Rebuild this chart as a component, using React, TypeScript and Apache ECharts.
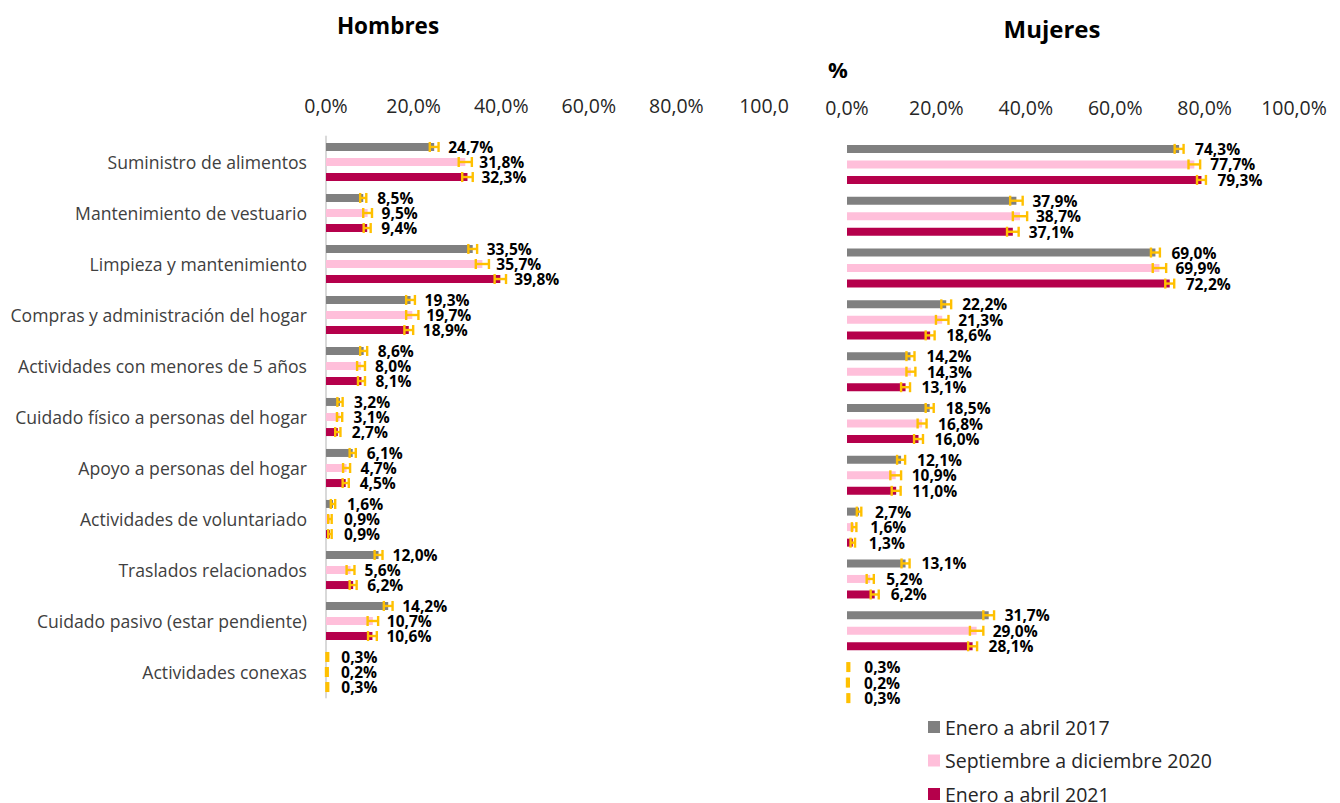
import React, { useEffect, useRef } from "react";
import * as echarts from "echarts";

const categories = [
  "Suministro de alimentos",
  "Mantenimiento de vestuario",
  "Limpieza y mantenimiento",
  "Compras y administración del hogar",
  "Actividades con menores de 5 años",
  "Cuidado físico a personas del hogar",
  "Apoyo a personas del hogar",
  "Actividades de voluntariado",
  "Traslados relacionados",
  "Cuidado pasivo (estar pendiente)",
  "Actividades conexas",
];

const periods = ["Enero a abril 2017", "Septiembre a diciembre 2020", "Enero a abril 2021"];
const colors = ["#808080", "#FFBFDA", "#B5004B"];
const errColor = "#FFC000";

const men2017 = [24.7, 8.5, 33.5, 19.3, 8.6, 3.2, 6.1, 1.6, 12.0, 14.2, 0.3];
const men2020 = [31.8, 9.5, 35.7, 19.7, 8.0, 3.1, 4.7, 0.9, 5.6, 10.7, 0.2];
const men2021 = [32.3, 9.4, 39.8, 18.9, 8.1, 2.7, 4.5, 0.9, 6.2, 10.6, 0.3];

const women2017 = [74.3, 37.9, 69.0, 22.2, 14.2, 18.5, 12.1, 2.7, 13.1, 31.7, 0.3];
const women2020 = [77.7, 38.7, 69.9, 21.3, 14.3, 16.8, 10.9, 1.6, 5.2, 29.0, 0.2];
const women2021 = [79.3, 37.1, 72.2, 18.6, 13.1, 16.0, 11.0, 1.3, 6.2, 28.1, 0.3];

// estimated half-widths of the error bars (percentage points)
const menErr2017 = [1.0, 0.7, 1.0, 1.0, 0.8, 0.6, 0.7, 0.5, 0.9, 1.0, 0.2];
const menErr2020 = [1.5, 1.0, 1.5, 1.4, 0.9, 0.6, 0.8, 0.4, 0.9, 1.2, 0.2];
const menErr2021 = [1.2, 0.8, 1.3, 1.0, 0.8, 0.6, 0.7, 0.4, 0.8, 1.0, 0.2];
const womenErr2017 = [1.0, 1.4, 1.0, 1.1, 0.9, 0.9, 0.9, 0.5, 0.9, 1.2, 0.2];
const womenErr2020 = [1.3, 1.6, 1.5, 1.4, 1.0, 1.0, 1.2, 0.5, 0.8, 1.5, 0.2];
const womenErr2021 = [1.0, 1.3, 1.0, 1.0, 1.0, 1.0, 1.0, 0.5, 0.9, 1.0, 0.2];

const FONT = "'Open Sans', 'Noto Sans', sans-serif";

const fmtPct = (v: number) => v.toFixed(1).replace(".", ",") + "%";

export default function App() {
  const ref = useRef<HTMLDivElement>(null);

  useEffect(() => {
    if (!ref.current) return;
    const chart = echarts.init(ref.current, undefined, { renderer: "svg" });

    const panels = [
      { values: [men2017, men2020, men2021], errs: [menErr2017, menErr2020, menErr2021], barGap: 0.88 },
      { values: [women2017, women2020, women2021], errs: [womenErr2017, womenErr2020, womenErr2021], barGap: 0.94 },
    ];
    const barW = 8;

    const series: any[] = [];
    panels.forEach((p, gi) => {
      p.values.forEach((vals, si) => {
        series.push({
          type: "bar",
          name: periods[si],
          xAxisIndex: gi,
          yAxisIndex: gi,
          data: vals,
          barWidth: barW,
          barGap: Math.round(p.barGap * 100) + "%",
          itemStyle: { color: colors[si] },
          label: {
            show: true,
            position: "right",
            distance: gi === 0 ? 14 : 16,
            formatter: (d: any) => fmtPct(d.value),
            fontFamily: FONT,
            fontWeight: "bold",
            fontSize: 15.5,
            lineHeight: 13,
            color: "#000",
          },
          z: 2,
        });
      });
      p.values.forEach((vals, si) => {
        const spacing = barW + barW * p.barGap;
        const offset = (si - 1) * spacing;
        series.push({
          type: "custom",
          name: "err" + gi + si,
          xAxisIndex: gi,
          yAxisIndex: gi,
          z: 3,
          encode: { x: [1, 2], y: 0 },
          data: vals.map((v, i) => [i, v - p.errs[si][i], v + p.errs[si][i]]),
          renderItem: (params: any, api: any) => {
            const cat = api.value(0);
            const lo = api.coord([api.value(1), cat]);
            const hi = api.coord([api.value(2), cat]);
            const y = lo[1] + offset;
            const h = 5;
            const st = { stroke: errColor, lineWidth: 2.4 };
            return {
              type: "group",
              children: [
                { type: "line", shape: { x1: lo[0], y1: y, x2: hi[0], y2: y }, style: st },
                { type: "line", shape: { x1: lo[0], y1: y - h, x2: lo[0], y2: y + h }, style: st },
                { type: "line", shape: { x1: hi[0], y1: y - h, x2: hi[0], y2: y + h }, style: st },
              ],
            };
          },
        });
      });
    });

    const xAxisBase = (gi: number) => ({
      type: "value",
      gridIndex: gi,
      position: "top",
      min: 0,
      max: 100,
      interval: 20,
      axisLine: { show: false },
      axisTick: { show: false },
      splitLine: { show: false },
      axisLabel: {
        margin: 21,
        fontFamily: FONT,
        fontSize: 19.5,
        color: "#262626",
        formatter: (v: number) => (gi === 0 && v === 100 ? "100,0" : fmtPct(v)),
      },
    });

    const legendTops = [717, 750.5, 784];
    const legends = periods.map((name, i) => ({
      data: [name],
      orient: "vertical",
      left: 928,
      top: legendTops[i],
      padding: 0,
      icon: "rect",
      itemWidth: 12,
      itemHeight: 12,
      textStyle: { fontFamily: FONT, fontSize: 19.5, color: "#262626", lineHeight: 18 },
    }));

    chart.setOption({
      animation: false,
      textStyle: { fontFamily: FONT },
      grid: [
        { left: 326, top: 136.5, width: 438, height: 561 },
        { left: 847, top: 138.5, width: 447, height: 570 },
      ],
      xAxis: [xAxisBase(0), xAxisBase(1)],
      yAxis: [
        {
          type: "category",
          gridIndex: 0,
          inverse: true,
          data: categories,
          axisLine: { show: true, lineStyle: { color: "#D9D9D9", width: 2 } },
          axisTick: { show: false },
          axisLabel: { margin: 19, fontFamily: FONT, fontSize: 17.6, color: "#404040" },
        },
        {
          type: "category",
          gridIndex: 1,
          inverse: true,
          data: categories,
          axisLine: { show: false },
          axisTick: { show: false },
          axisLabel: { show: false },
        },
      ],
      legend: legends,
      graphic: [
        {
          type: "text",
          x: 388,
          y: 25,
          style: { text: "Hombres", font: `bold 22.5px ${FONT}`, fill: "#000", textAlign: "center", textVerticalAlign: "middle" },
        },
        {
          type: "text",
          x: 1052,
          y: 28,
          style: { text: "Mujeres", font: `bold 24px ${FONT}`, fill: "#000", textAlign: "center", textVerticalAlign: "middle" },
        },
        {
          type: "text",
          x: 838,
          y: 69,
          style: { text: "%", font: `bold 22px ${FONT}`, fill: "#000", textAlign: "center", textVerticalAlign: "middle" },
        },
      ],
      series,
    });

    return () => chart.dispose();
  }, []);

  return (
    <div
      ref={ref}
      style={{ position: "absolute", left: 0, top: 0, width: 1340, height: 803, background: "#fff" }}
    />
  );
}
